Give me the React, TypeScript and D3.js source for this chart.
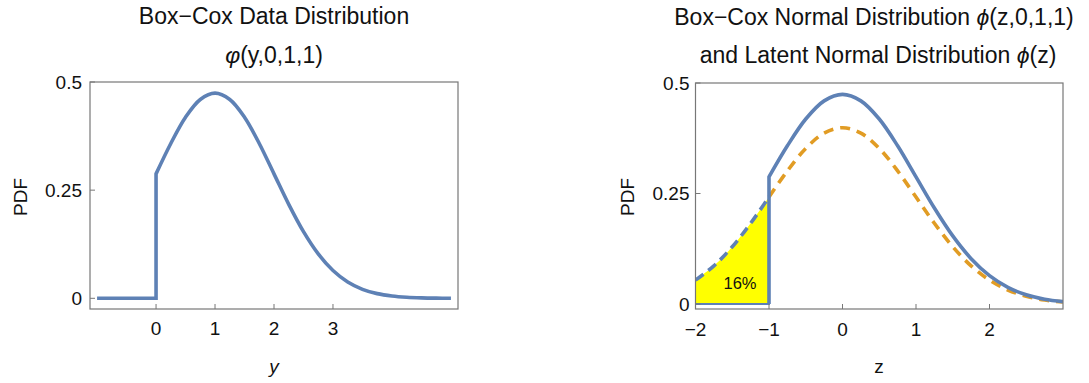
import React from "react";
import * as d3 from "d3";

// Box-Cox data density on y (lambda = 1), sampled every 0.25
const yGrid = [0, 0.25, 0.5, 0.75, 1, 1.25, 1.5, 1.75, 2, 2.25, 2.5, 2.75, 3, 3.25, 3.5, 3.75, 4, 4.25, 4.5, 4.75, 5];
const yDensity = [0.2876, 0.3579, 0.4185, 0.4596, 0.4742, 0.4596, 0.4185, 0.3579, 0.2876, 0.2171, 0.154, 0.1026, 0.0642, 0.0377, 0.0208, 0.0108, 0.0053, 0.0024, 0.001, 0.0004, 0.0002];
const yZeroSegment = [-1, 0];

// Truncated (Box-Cox) normal on z, and the latent normal density
const zGrid = [-1, -0.75, -0.5, -0.25, 0, 0.25, 0.5, 0.75, 1, 1.25, 1.5, 1.75, 2, 2.25, 2.5, 2.75, 3];
const boxCoxDensity = [0.2876, 0.3579, 0.4185, 0.4596, 0.4742, 0.4596, 0.4185, 0.3579, 0.2876, 0.2171, 0.154, 0.1026, 0.0642, 0.0377, 0.0208, 0.0108, 0.0053];
const latentDensity = [0.242, 0.3011, 0.3521, 0.3867, 0.3989, 0.3867, 0.3521, 0.3011, 0.242, 0.1826, 0.1295, 0.0863, 0.054, 0.0317, 0.0175, 0.0091, 0.0044];
const tailGrid = [-2, -1.75, -1.5, -1.25, -1];
const tailDensity = [0.054, 0.0863, 0.1295, 0.1826, 0.242];
const tailShare = "16%";

const yTicksLeft = [0, 1, 2, 3];
const zTicks = [-2, -1, 0, 1, 2];
const pdfTicks = [0, 0.25, 0.5];

const BLUE = "#5e81b5";
const ORANGE = "#e19c24";
const FRAME = "#777";
const FONT = "'Liberation Sans', Arial, sans-serif";

type Pt = [number, number];

function Frame({ x0, x1, y0, y1 }: { x0: number; x1: number; y0: number; y1: number }) {
  return <rect x={x0} y={y0} width={x1 - x0} height={y1 - y0} fill="none" stroke={FRAME} strokeWidth={1.2} />;
}

export default function App() {
  // left panel geometry
  const L = { x0: 90, x1: 458, y0: 82, y1: 309 };
  const xL = d3.scaleLinear().domain([-1.12, 5.12]).range([L.x0, L.x1]);
  const yL = d3.scaleLinear().domain([0, 0.5]).range([298.3, 82]);

  // right panel geometry
  const R = { x0: 695.5, x1: 1063, y0: 83, y1: 309 };
  const xR = d3.scaleLinear().domain([-2, 3]).range([R.x0, R.x1]);
  const yR = d3.scaleLinear().domain([0, 0.5]).range([304, 83]);

  const smoothL = d3.line<Pt>().x((d) => xL(d[0])).y((d) => yL(d[1])).curve(d3.curveCatmullRom);
  const smoothR = d3.line<Pt>().x((d) => xR(d[0])).y((d) => yR(d[1])).curve(d3.curveCatmullRom);

  const leftPts: Pt[] = yGrid.map((v, i) => [v, yDensity[i]]);
  const leftPath =
    `M${xL(yZeroSegment[0])},${yL(0)}L${xL(yZeroSegment[1])},${yL(0)}` +
    (smoothL(leftPts) || "").replace(/^M/, "L");

  const bcPts: Pt[] = zGrid.map((v, i) => [v, boxCoxDensity[i]]);
  const bcPath = `M${xR(zGrid[0])},${yR(0)}` + (smoothR(bcPts) || "").replace(/^M/, "L");
  const latentPts: Pt[] = zGrid.map((v, i) => [v, latentDensity[i]]);
  const tailPts: Pt[] = tailGrid.map((v, i) => [v, tailDensity[i]]);

  const area = d3
    .area<Pt>()
    .x((d) => xR(d[0]))
    .y0(yR(0))
    .y1((d) => yR(d[1]))
    .curve(d3.curveCatmullRom);

  const tickFont = 19;
  const titleFont = 23;
  const lw = 3.6;

  return (
    <svg width={1089} height={383} style={{ position: "absolute", left: 0, top: 0, background: "#fff" }} fontFamily={FONT}>
      {/* ---------- left panel ---------- */}
      <text x={274} y={24} textAnchor="middle" fontSize={titleFont} fill="#111">Box−Cox Data Distribution</text>
      <text x={274} y={63} textAnchor="middle" fontSize={titleFont} fill="#111">
        <tspan fontStyle="italic">φ</tspan>(y,0,1,1)
      </text>
      <Frame {...L} />
      {pdfTicks.map((t) => (
        <g key={"ly" + t}>
          <line x1={L.x0} x2={L.x0 + 5} y1={yL(t)} y2={yL(t)} stroke={FRAME} strokeWidth={1} />
          <text x={L.x0 - 8} y={yL(t) + 6.5} textAnchor="end" fontSize={tickFont} fill="#111">{t}</text>
        </g>
      ))}
      {yTicksLeft.map((t) => (
        <g key={"lx" + t}>
          <line x1={xL(t)} x2={xL(t)} y1={L.y1} y2={L.y1 - 5} stroke={FRAME} strokeWidth={1} />
          <text x={xL(t)} y={335} textAnchor="middle" fontSize={tickFont} fill="#111">{t}</text>
        </g>
      ))}
      <text x={274} y={373} textAnchor="middle" fontSize={tickFont} fontStyle="italic" fill="#111">y</text>
      <text transform={`translate(27,197) rotate(-90)`} textAnchor="middle" fontSize={tickFont} fill="#111">PDF</text>
      <path d={leftPath} fill="none" stroke={BLUE} strokeWidth={lw} strokeLinejoin="miter" />

      {/* ---------- right panel ---------- */}
      <text x={874} y={25} textAnchor="middle" fontSize={titleFont} fill="#111">
        Box−Cox Normal Distribution <tspan fontStyle="italic">ϕ</tspan>(z,0,1,1)
      </text>
      <text x={878} y={63} textAnchor="middle" fontSize={titleFont} fill="#111">
        and Latent Normal Distribution <tspan fontStyle="italic">ϕ</tspan>(z)
      </text>
      <defs>
        <clipPath id="rclip">
          <rect x={R.x0} y={R.y0} width={R.x1 - R.x0} height={R.y1 - R.y0} />
        </clipPath>
      </defs>
      <g clipPath="url(#rclip)">
        <path d={area(tailPts) || ""} fill="#ffff00" stroke="none" />
        <path
          d={`M${xR(tailGrid[0])},${yR(0)}L${xR(tailGrid[tailGrid.length - 1])},${yR(0)}L${xR(tailGrid[tailGrid.length - 1])},${yR(tailDensity[tailDensity.length - 1])}`}
          fill="none"
          stroke={BLUE}
          strokeWidth={1.8}
        />
        <path d={smoothR(tailPts) || ""} fill="none" stroke={BLUE} strokeWidth={lw} strokeDasharray="10,6" />
        <path d={smoothR(latentPts) || ""} fill="none" stroke={ORANGE} strokeWidth={lw} strokeDasharray="10,7" />
        <path d={bcPath} fill="none" stroke={BLUE} strokeWidth={lw} />
      </g>
      <text x={740} y={289} textAnchor="middle" fontSize={16.5} fill="#111">{tailShare}</text>
      <Frame {...R} />
      {pdfTicks.map((t) => (
        <g key={"ry" + t}>
          <line x1={R.x0} x2={R.x0 + 5} y1={yR(t)} y2={yR(t)} stroke={FRAME} strokeWidth={1} />
          <text x={R.x0 - 6} y={yR(t) + 6.5} textAnchor="end" fontSize={tickFont} fill="#111">{t}</text>
        </g>
      ))}
      {zTicks.map((t) => (
        <g key={"rx" + t}>
          <line x1={xR(t)} x2={xR(t)} y1={R.y1} y2={R.y1 - 5} stroke={FRAME} strokeWidth={1} />
          <text x={xR(t)} y={336} textAnchor="middle" fontSize={tickFont} fill="#111">{t < 0 ? "−" + Math.abs(t) : t}</text>
        </g>
      ))}
      <text x={879} y={373} textAnchor="middle" fontSize={tickFont} fill="#111">z</text>
      <text transform={`translate(634,197) rotate(-90)`} textAnchor="middle" fontSize={tickFont} fill="#111">PDF</text>
    </svg>
  );
}
